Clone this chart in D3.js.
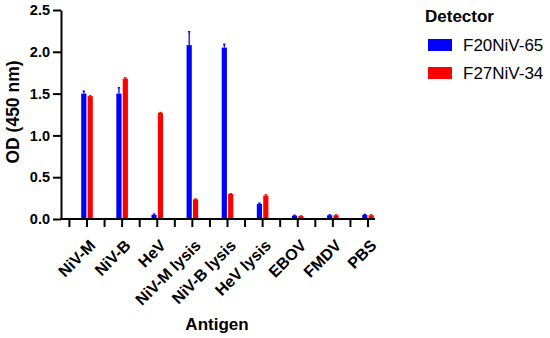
<!DOCTYPE html>
<html>
<head>
<meta charset="utf-8">
<script src="https://cdn.jsdelivr.net/npm/d3@7"></script>
<style>
  body { margin: 0; background: #fff; }
  text { font-family: "Liberation Sans", Arial, sans-serif; }
</style>
</head>
<body>
<svg width="550" height="338"></svg>
<script>
var antigens = ['NiV-M', 'NiV-B', 'HeV', 'NiV-M lysis', 'NiV-B lysis', 'HeV lysis', 'EBOV', 'FMDV', 'PBS'];
var seriesNames = ['F20NiV-65', 'F27NiV-34'];
var seriesColors = ['#0000ff', '#ff0000'];
var f20Values = [1.50, 1.50, 0.05, 2.08, 2.05, 0.18, 0.04, 0.045, 0.05];
var f20Errors = [0.03, 0.07, 0.01, 0.16, 0.04, 0.01, 0.005, 0.005, 0.005];
var f27Values = [1.47, 1.68, 1.27, 0.235, 0.30, 0.28, 0.035, 0.045, 0.045];
var f27Errors = [0.005, 0.01, 0.005, 0.005, 0.003, 0.01, 0.003, 0.005, 0.005];
var yTicks = [0, 0.5, 1.0, 1.5, 2.0, 2.5];

var svg = d3.select('svg');

var x = d3.scalePoint().domain(antigens).range([87, 368]);
var step = x.step();
var y = d3.scaleLinear().domain([0, 2.5]).range([219, 10]);

var rows = antigens.map(function(a, i){
  return {name: a, vals: [f20Values[i], f27Values[i]], errs: [f20Errors[i], f27Errors[i]]};
});

// bars
var barW = 5.2;
var offsets = [-5.8, 0.6];
var groups = svg.selectAll('g.grp').data(rows).enter().append('g')
  .attr('class', 'grp')
  .attr('transform', function(d){ return 'translate(' + x(d.name) + ',0)'; });

seriesNames.forEach(function(s, k){
  groups.append('rect')
    .attr('x', offsets[k])
    .attr('width', barW)
    .attr('y', function(d){ return y(d.vals[k]); })
    .attr('height', function(d){ return y(0) - y(d.vals[k]); })
    .attr('fill', seriesColors[k]);
  // error bars (upper only)
  groups.append('line')
    .attr('x1', offsets[k] + barW / 2).attr('x2', offsets[k] + barW / 2)
    .attr('y1', function(d){ return y(d.vals[k]); })
    .attr('y2', function(d){ return y(d.vals[k] + d.errs[k]); })
    .attr('stroke', seriesColors[k]).attr('stroke-width', 1.3);
  groups.append('line')
    .attr('x1', offsets[k] + barW / 2 - 1.2).attr('x2', offsets[k] + barW / 2 + 1.2)
    .attr('y1', function(d){ return y(d.vals[k] + d.errs[k]); })
    .attr('y2', function(d){ return y(d.vals[k] + d.errs[k]); })
    .attr('stroke', seriesColors[k]).attr('stroke-width', 1.3);
});

// y axis
var yAxis = svg.append('g')
  .attr('transform', 'translate(61,0)')
  .call(d3.axisLeft(y).tickValues(yTicks).tickFormat(d3.format('.1f')).tickSize(8).tickSizeOuter(0).tickPadding(3));
yAxis.select('.domain').attr('stroke-width', 2);
yAxis.selectAll('.tick line').attr('stroke-width', 2);
yAxis.selectAll('text').attr('font-size', 14.5).attr('font-weight', 'bold').attr('fill', '#000');

// x axis
var xTickPos = [];
antigens.forEach(function(a){ xTickPos.push(x(a) - step / 2); xTickPos.push(x(a)); });
var xAxis = svg.append('g').attr('transform', 'translate(0,219)');
xAxis.append('line').attr('x1', 60).attr('x2', 375).attr('stroke', '#000').attr('stroke-width', 2);
xAxis.selectAll('line.tk').data(xTickPos).enter().append('line')
  .attr('class', 'tk')
  .attr('x1', function(d){ return d; }).attr('x2', function(d){ return d; })
  .attr('y1', 0).attr('y2', 8)
  .attr('stroke', '#000').attr('stroke-width', 2);
xAxis.selectAll('text').data(antigens).enter().append('text')
  .attr('transform', function(d){ return 'translate(' + (x(d) + 1) + ',19) rotate(-45)'; })
  .attr('text-anchor', 'end')
  .attr('dy', '0.75em')
  .attr('font-size', 16).attr('font-weight', 'bold')
  .text(function(d){ return d; });

// axis titles
svg.append('text')
  .attr('transform', 'translate(19,112) rotate(-90)')
  .attr('text-anchor', 'middle')
  .attr('font-size', 17.5).attr('font-weight', 'bold')
  .text('OD (450 nm)');
svg.append('text')
  .attr('x', 217).attr('y', 330)
  .attr('text-anchor', 'middle')
  .attr('font-size', 17).attr('font-weight', 'bold')
  .text('Antigen');

// legend
svg.append('text')
  .attr('x', 425).attr('y', 22)
  .attr('font-size', 17).attr('font-weight', 'bold')
  .text('Detector');
var leg = svg.selectAll('g.leg').data(seriesNames).enter().append('g')
  .attr('class', 'leg')
  .attr('transform', function(d, i){ return 'translate(428,' + (39 + i * 28) + ')'; });
leg.append('rect').attr('width', 24).attr('height', 12)
  .attr('fill', function(d, i){ return seriesColors[i]; });
leg.append('text').attr('x', 35).attr('y', 12)
  .attr('font-size', 17)
  .text(function(d){ return d; });
</script>
</body>
</html>
